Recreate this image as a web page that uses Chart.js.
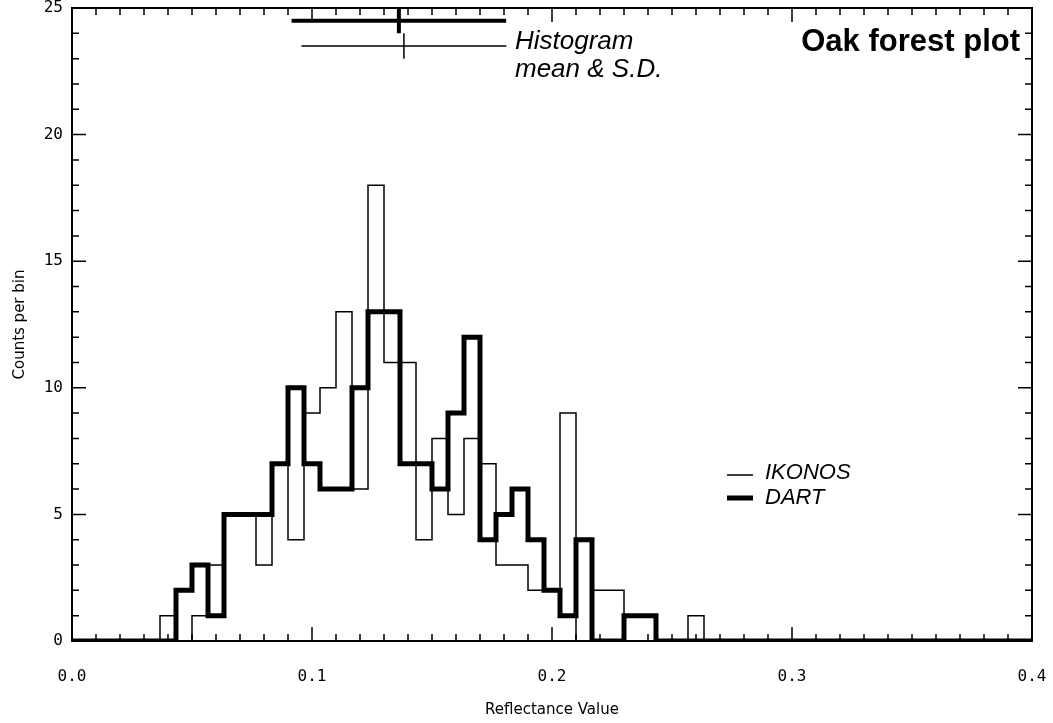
<!DOCTYPE html>
<html>
<head>
<meta charset="utf-8">
<script src="https://cdn.jsdelivr.net/npm/chart.js@4.4.1/dist/chart.umd.min.js"></script>
<style>
  html, body { margin: 0; padding: 0; background: #fff; }
</style>
</head>
<body>
<canvas id="grafica" width="1053" height="723"></canvas>
<script>
// histogram bins: centres at 0, 1/150, 2/150 ... 0.4 (61 bins)
const binWidth = 0.4 / 60;
const ikonosCounts = [0,0,0,0,0,0,
  1,0,1,3,5,5,3,7,4,9,10,13,6,18,11,11,4,8,5,8,7,3,3,2,2,9,0,2,2,1,1,0,0,1,
  0,0,0,0,0,0,0,0,0,0,0,0,0,0,0,0,0,0,0,0,0];
const dartCounts = [0,0,0,0,0,0,
  0,2,3,1,5,5,5,7,10,7,6,6,10,13,13,7,7,6,9,12,4,5,6,4,2,1,4,0,0,1,1,0,0,0,
  0,0,0,0,0,0,0,0,0,0,0,0,0,0,0,0,0,0,0,0,0];

// histogram mean & S.D. markers (drawn at the top of the plot)
const dartMean = 0.1362, dartSD = 0.0447, dartLevel = 24.5;
const ikonosMean = 0.1383, ikonosSD = 0.0427, ikonosLevel = 23.5;

const xTicks = [0.0, 0.1, 0.2, 0.3, 0.4];
const yTicks = [0, 5, 10, 15, 20, 25];

function toPoints(counts) {
  return counts.map((c, i) => ({ x: i * binWidth, y: c }));
}
function sdBar(mean, sd, level) {
  return [
    { x: mean - sd, y: level }, { x: mean + sd, y: level },
    { x: mean, y: null },
    { x: mean, y: level + 0.5 }, { x: mean, y: level - 0.5 }
  ];
}

// IDL style box: inward ticks on all four sides + frame + annotations
const ejesIDL = {
  id: 'ejesIDL',
  afterDatasetsDraw(chart) {
    const { ctx, chartArea: a, scales: { x, y } } = chart;
    ctx.save();
    ctx.strokeStyle = '#000';
    ctx.lineWidth = 1.5;
    ctx.beginPath();
    for (let i = 0; i <= 40; i++) {
      const px = x.getPixelForValue(i * 0.01);
      const len = i % 10 === 0 ? 14 : 7;
      ctx.moveTo(px, a.bottom); ctx.lineTo(px, a.bottom - len);
      ctx.moveTo(px, a.top); ctx.lineTo(px, a.top + len);
    }
    for (let j = 0; j <= 25; j++) {
      const py = y.getPixelForValue(j);
      const len = j % 5 === 0 ? 14 : 7;
      ctx.moveTo(a.left, py); ctx.lineTo(a.left + len, py);
      ctx.moveTo(a.right, py); ctx.lineTo(a.right - len, py);
    }
    ctx.stroke();
    ctx.lineWidth = 2;
    ctx.strokeRect(a.left, a.top, a.right - a.left, a.bottom - a.top);

    // texts
    ctx.fillStyle = '#000';
    ctx.textBaseline = 'middle';
    ctx.font = 'italic 26px "Liberation Sans", Arial, sans-serif';
    ctx.fillText('Histogram', 515, 42);
    ctx.fillText('mean & S.D.', 515, 70);
    ctx.font = 'italic 22px "Liberation Sans", Arial, sans-serif';
    ctx.fillText('IKONOS', 765, 473);
    ctx.fillText('DART', 765, 498);
    ctx.font = 'bold 31px "Liberation Sans", Arial, sans-serif';
    ctx.textAlign = 'right';
    ctx.fillText('Oak forest plot', 1020, 42);

    // legend samples
    ctx.beginPath();
    ctx.lineWidth = 1.5;
    ctx.moveTo(727, 475); ctx.lineTo(753, 475);
    ctx.stroke();
    ctx.beginPath();
    ctx.lineWidth = 5;
    ctx.moveTo(727, 498); ctx.lineTo(753, 498);
    ctx.stroke();
    ctx.restore();
  }
};

new Chart(document.getElementById('grafica'), {
  type: 'line',
  data: {
    datasets: [
      {
        label: 'DART',
        data: toPoints(dartCounts),
        stepped: 'middle',
        borderColor: '#000',
        borderWidth: 5,
        pointRadius: 0,
        fill: false,
        order: 0
      },
      {
        label: 'IKONOS',
        data: toPoints(ikonosCounts),
        stepped: 'middle',
        borderColor: '#000',
        borderWidth: 1.5,
        pointRadius: 0,
        fill: false,
        order: 1
      },
      {
        label: 'DART mean',
        data: sdBar(dartMean, dartSD, dartLevel),
        borderColor: '#000',
        borderWidth: 4,
        pointRadius: 0,
        spanGaps: false,
        clip: false,
        order: 2
      },
      {
        label: 'IKONOS mean',
        data: sdBar(ikonosMean, ikonosSD, ikonosLevel),
        borderColor: '#000',
        borderWidth: 1.5,
        pointRadius: 0,
        spanGaps: false,
        clip: false,
        order: 3
      }
    ]
  },
  options: {
    responsive: false,
    animation: false,
    layout: { padding: { top: 8, right: 21, bottom: 0, left: 0 } },
    plugins: { legend: { display: false }, tooltip: { enabled: false } },
    scales: {
      x: {
        type: 'linear',
        min: 0, max: 0.4,
        afterBuildTicks: s => { s.ticks = xTicks.map(v => ({ value: v })); },
        afterFit: s => { s.height = 82; },
        // grid hidden; tickLength only pushes the labels down
        grid: { display: false, drawTicks: true, tickLength: 26 },
        border: { display: false },
        ticks: {
          color: '#000',
          font: { family: '"DejaVu Sans Mono", monospace', size: 16 },
          padding: 0,
          maxRotation: 0,
          callback: v => Number(v).toFixed(1)
        },
        title: {
          display: true,
          text: 'Reflectance Value',
          color: '#000',
          font: { family: '"DejaVu Sans", sans-serif', size: 15 },
          padding: { top: 0, bottom: 4 }
        }
      },
      y: {
        min: 0, max: 25,
        afterBuildTicks: s => { s.ticks = yTicks.map(v => ({ value: v })); },
        afterFit: s => { s.width = 72; },
        grid: { display: false, drawTicks: true, tickLength: 9 },
        border: { display: false },
        ticks: {
          color: '#000',
          font: { family: '"DejaVu Sans Mono", monospace', size: 16, lineHeight: 1 },
          padding: 0
        },
        title: {
          display: true,
          text: 'Counts per bin',
          color: '#000',
          font: { family: '"DejaVu Sans", sans-serif', size: 15 },
          padding: { top: 11, bottom: 0 }
        }
      }
    }
  },
  plugins: [ejesIDL]
});
</script>
</body>
</html>
